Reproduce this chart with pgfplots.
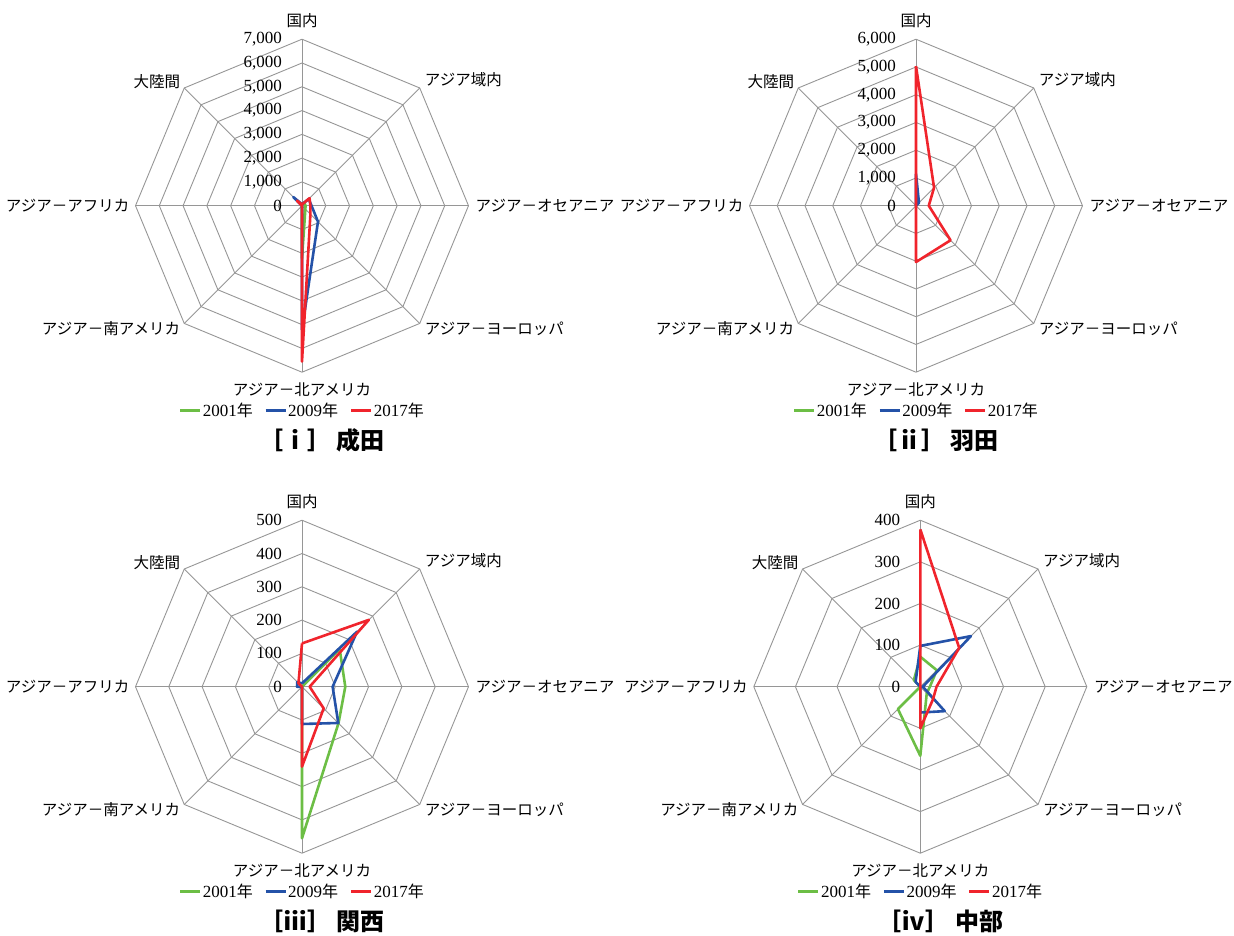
\documentclass[border=0pt]{standalone}
\usepackage{pgfplots}
\usepackage{pgfplotstable}
\pgfplotsset{compat=1.18}
\usepackage{fontspec}
\setmainfont{Liberation Serif}
\newfontfamily\jp{Noto Sans CJK JP}

\definecolor{s01}{RGB}{108,190,69}
\definecolor{s09}{RGB}{36,82,168}
\definecolor{s17}{RGB}{240,36,44}
\definecolor{gridc}{RGB}{150,150,150}

% Route categories, clockwise from the top:
% 90 国内, 45 アジア域内, 0 アジア－オセアニア, -45 アジア－ヨーロッパ,
% -90 アジア－北アメリカ, -135 アジア－南アメリカ, 180 アジア－アフリカ, 135 大陸間
% (the first row is repeated at the end to close each polygon)
\pgfplotstableread{
ang  y2001 y2009 y2017
90     50    60    50
45    150   400   450
0     150   400   350
-45   200   950   500
-90  2210  5220  6550
-135    0     0     0
180     0     0     0
135    50   520   300
90     50    60    50
}\narita
\pgfplotstableread{
ang  y2001 y2009 y2017
90      0  1150  5030
45      0   150   920
0       0     0   460
-45     0     0  1760
-90     0     0  2030
-135    0     0     0
180     0     0     0
135     0     0     0
90      0  1150  5030
}\haneda
\pgfplotstableread{
ang  y2001 y2009 y2017
90      0    10   130
45    160   234   284
0     130    92    23
-45   155   154    92
-90   455   112   240
-135    0     0     0
180     0    15     0
135     0    20    15
90      0    10   130
}\kansai
\pgfplotstableread{
ang  y2001 y2009 y2017
90     72    98   378
45     56   172   132
0      23     6    39
-45    22    83    43
-90   166    62   100
-135   76     0     0
180     0     0     0
135    22    16     0
90     72    98   378
}\chubu

\pgfplotsset{
  radar/.style={hide axis, scale only axis, width=333pt, height=333pt,
    clip=false, anchor=center,
    xmin=-#1, xmax=#1, ymin=-#1, ymax=#1,
    legend columns=3,
    legend style={at={(0.5,-0.115)}, anchor=center, draw=none, fill=none,
      font=\fontsize{17}{20}\selectfont, inner sep=0pt,
      /tikz/every even column/.append style={column sep=10pt},
      nodes={inner sep=1.5pt}},
  },
  legend image code/.code={\draw[#1, line width=2.5pt] (0pt,0pt) -- (20pt,0pt);},
  gridline/.style={gridc, line width=0.9pt, data cs=polar, forget plot},
  ser/.style={color=#1, line width=2.6pt, line join=round, data cs=polar, no marks},
}

% octagonal grid rings and spokes
\newcommand\radargrid[2]{%
  \pgfplotsinvokeforeach{#1}{\addplot[gridline] coordinates
    {(90,##1)(45,##1)(0,##1)(-45,##1)(-90,##1)(-135,##1)(180,##1)(135,##1)(90,##1)};}%
  \pgfplotsinvokeforeach{90,45,0,-45,-90,-135,180,135}{\addplot[gridline] coordinates
    {(##1,0)(##1,#2)};}%
}
% radial value label: level k of n
\newcommand\tl[3]{\node[anchor=east, inner sep=0pt, xshift=-20pt,
  font=\fontsize{17}{20}\selectfont] at (rel axis cs:0.5,{0.5+0.5*#1/#2}) {#3};}
% category labels around the octagon
\newcommand\cats{%
  \begin{scope}[every node/.style={inner sep=0pt, font=\fontsize{15.5}{18}\selectfont\jp}]
  \node[anchor=center, yshift=19pt] at (rel axis cs:0.5,1) {国内};
  \node[anchor=west, xshift=5pt, yshift=8pt] at (rel axis cs:0.85355,0.85355) {アジア域内};
  \node[anchor=west, xshift=7pt] at (rel axis cs:1,0.5) {アジア－オセアニア};
  \node[anchor=west, xshift=5pt, yshift=-5pt] at (rel axis cs:0.85355,0.14645) {アジア－ヨーロッパ};
  \node[anchor=center, yshift=-17pt] at (rel axis cs:0.5,0) {アジア－北アメリカ};
  \node[anchor=east, xshift=-4pt, yshift=-5pt] at (rel axis cs:0.14645,0.14645) {アジア－南アメリカ};
  \node[anchor=east, xshift=-6pt] at (rel axis cs:0,0.5) {アジア－アフリカ};
  \node[anchor=east, xshift=-4pt, yshift=6pt] at (rel axis cs:0.14645,0.85355) {大陸間};
  \end{scope}}
\newcommand\paneltitle[1]{\node[inner sep=0pt, font=\fontsize{24}{29}\selectfont\jp\bfseries]
  at (rel axis cs:0.56,-0.206) {#1};}
\newcommand\series[1]{%
  \addplot[ser=s01] table[x=ang, y=y2001] {#1};
  \addplot[ser=s09] table[x=ang, y=y2009] {#1};
  \addplot[ser=s17] table[x=ang, y=y2017] {#1};
  \legend{2001{\jp\fontsize{16}{19}\selectfont 年},2009{\jp\fontsize{16}{19}\selectfont 年},2017{\jp\fontsize{16}{19}\selectfont 年}}}

\begin{document}
\begin{tikzpicture}
\path[use as bounding box] (0pt,0pt) rectangle (1234pt,-935pt);

% [i] 成田
\begin{axis}[radar=7000, at={(302pt,-205.7pt)}]
\radargrid{1000,2000,3000,4000,5000,6000,7000}{7000}
\series{\narita}
\tl{0}{7}{0}\tl{1}{7}{1,000}\tl{2}{7}{2,000}\tl{3}{7}{3,000}
\tl{4}{7}{4,000}\tl{5}{7}{5,000}\tl{6}{7}{6,000}\tl{7}{7}{7,000}
\cats
\paneltitle{［ⅰ］ 成田}
\end{axis}

% [ii] 羽田
\begin{axis}[radar=6000, at={(916pt,-205.7pt)}]
\radargrid{1000,2000,3000,4000,5000,6000}{6000}
\series{\haneda}
\tl{0}{6}{0}\tl{1}{6}{1,000}\tl{2}{6}{2,000}\tl{3}{6}{3,000}
\tl{4}{6}{4,000}\tl{5}{6}{5,000}\tl{6}{6}{6,000}
\cats
\paneltitle{［ⅱ］ 羽田}
\end{axis}

% [iii] 関西
\begin{axis}[radar=500, at={(302pt,-686.7pt)}]
\radargrid{100,200,300,400,500}{500}
\series{\kansai}
\tl{0}{5}{0}\tl{1}{5}{100}\tl{2}{5}{200}\tl{3}{5}{300}
\tl{4}{5}{400}\tl{5}{5}{500}
\cats
\paneltitle{［ⅲ］ 関西}
\end{axis}

% [iv] 中部
\begin{axis}[radar=400, at={(920.3pt,-686.7pt)}]
\radargrid{100,200,300,400}{400}
\series{\chubu}
\tl{0}{4}{0}\tl{1}{4}{100}\tl{2}{4}{200}\tl{3}{4}{300}\tl{4}{4}{400}
\cats
\paneltitle{［ⅳ］ 中部}
\end{axis}
\end{tikzpicture}
\end{document}
